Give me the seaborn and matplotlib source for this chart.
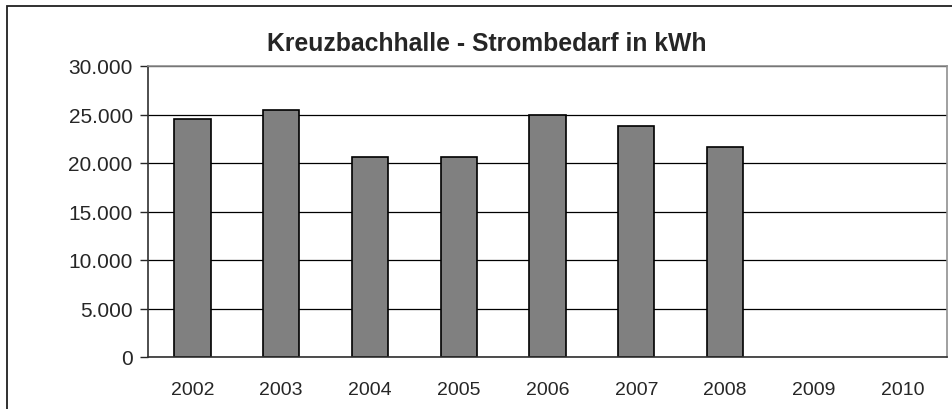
import numpy as np
import pandas as pd
import matplotlib
matplotlib.use("Agg")
import matplotlib.pyplot as plt
from matplotlib.ticker import FuncFormatter, FixedLocator
from matplotlib.patches import Rectangle
import seaborn as sns

# Strombedarf der Kreuzbachhalle (kWh), 2009/2010 noch ohne Werte
years = ["2002", "2003", "2004", "2005", "2006", "2007", "2008", "2009", "2010"]
kwh = [24500, 25500, 20600, 20600, 24900, 23800, 21700, np.nan, np.nan]
y_ticks = [0, 5000, 10000, 15000, 20000, 25000, 30000]

df = pd.DataFrame({"Jahr": years, "kWh": kwh})

sns.set_style("white")
plt.rcParams["font.family"] = ["Liberation Sans", "DejaVu Sans"]

fig = plt.figure(figsize=(9.53, 4.10), dpi=100)
ax = fig.add_axes([148 / 953, 1 - 358 / 410, (947 - 148) / 953, (358 - 67) / 410])

sns.barplot(data=df.dropna(), x="Jahr", y="kWh", order=years, color="#808080",
            saturation=1, width=0.41, edgecolor="black", linewidth=1.2, ax=ax)

ax.set_xlim(-0.5, len(years) - 0.5)
ax.set_ylim(0, 30000)
ax.yaxis.set_major_locator(FixedLocator(y_ticks))
ax.yaxis.set_major_formatter(FuncFormatter(lambda v, p: f"{int(v):,}".replace(",", ".")))
ax.yaxis.grid(True, color="black", linewidth=0.9)
ax.set_axisbelow(True)

ax.set_xlabel("")
ax.set_ylabel("")
ax.tick_params(axis="x", which="major", length=0, pad=17, labelsize=14)
ax.set_xticks(np.arange(-0.5, len(years)), minor=True)
ax.tick_params(axis="x", which="minor", length=5, width=1, color="#404040", direction="out")
ax.tick_params(axis="y", length=6, width=1, pad=5, labelsize=15, left=True, direction="out")

for side in ["left", "bottom"]:
    ax.spines[side].set_color("#303030")
    ax.spines[side].set_linewidth(1.2)
for side in ["top", "right"]:
    ax.spines[side].set_visible(True)
    ax.spines[side].set_color("#909090")
    ax.spines[side].set_linewidth(1.2)

fig.text(0.5105, 1 - 44 / 410, "Kreuzbachhalle - Strombedarf in kWh", ha="center", va="center",
         fontsize=17.8, fontweight="bold")

# Rahmen des Diagrammbereichs
fig.patches.append(Rectangle((7.5 / 953, -0.2), 1.1, 1 - 6.5 / 410 + 0.2, transform=fig.transFigure,
                             fill=False, edgecolor="#202020", linewidth=1.3))

fig.savefig("out.png", dpi=100)
